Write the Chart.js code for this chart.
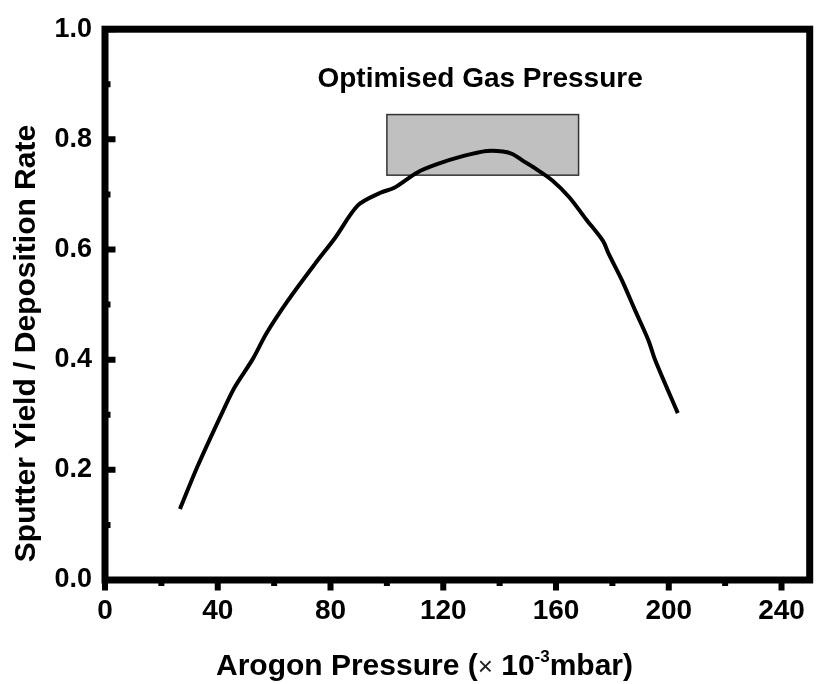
<!DOCTYPE html>
<html><head><meta charset="utf-8">
<script src="https://cdn.jsdelivr.net/npm/chart.js@4.4.1/dist/chart.umd.min.js"></script>
<style>html,body{margin:0;padding:0;background:#fff;} canvas{display:block;}</style>
</head><body>
<canvas id="c" width="819" height="684"></canvas>
<script>
// ---- data ----
const pressure = [26.6, 32.8, 41.5, 46.0, 52.4, 57.3, 65.0, 74.5, 81.6, 89.7, 97.7, 102.6, 110.8, 117.8, 127.2, 135.4, 141.2, 144.7, 148.3, 153.0, 158.8, 164.7, 170.5, 176.6, 178.7, 183.4, 188.1, 192.8, 195.2, 203.2];
const yieldRate = [0.129, 0.206, 0.303, 0.350, 0.401, 0.448, 0.508, 0.574, 0.621, 0.680, 0.703, 0.712, 0.740, 0.755, 0.770, 0.779, 0.778, 0.773, 0.761, 0.746, 0.725, 0.695, 0.656, 0.616, 0.592, 0.544, 0.489, 0.435, 0.399, 0.303];
const xTickValues = [0, 40, 80, 120, 160, 200, 240];
const xMinorValues = [20, 60, 100, 140, 180, 220];
const yTickValues = [0.0, 0.2, 0.4, 0.6, 0.8, 1.0];
const yMinorValues = [0.1, 0.3, 0.5, 0.7, 0.9];
const xRange = [0, 250];
const yRange = [0, 1];
const boxX = [100, 168];
const boxY = [0.735, 0.845];
const annotationText = 'Optimised Gas Pressure';
const annotationPos = [132, 0.895];
const yTitle = 'Sputter Yield / Deposition Rate';
const xTitleParts = ['Arogon Pressure (', '\u00d7', ' 10', '-3', 'mbar)'];

const FONT = "'Liberation Sans', Arial, Helvetica, sans-serif";

const decor = {
  id: 'decor',
  beforeDatasetsDraw(chart) {
    const {ctx, scales: {x, y}} = chart;
    const x0 = x.getPixelForValue(boxX[0]), x1 = x.getPixelForValue(boxX[1]);
    const y0 = y.getPixelForValue(boxY[1]), y1 = y.getPixelForValue(boxY[0]);
    ctx.save();
    ctx.fillStyle = '#c0c0c0';
    ctx.fillRect(x0, y0, x1 - x0, y1 - y0);
    ctx.strokeStyle = '#333';
    ctx.lineWidth = 1.5;
    ctx.strokeRect(x0, y0, x1 - x0, y1 - y0);
    ctx.restore();
  },
  afterDraw(chart) {
    const {ctx, chartArea: a, scales: {x, y}} = chart;
    ctx.save();
    // frame
    ctx.strokeStyle = '#000';
    ctx.lineWidth = 7;
    ctx.lineJoin = 'miter';
    ctx.strokeRect(a.left, a.top, a.right - a.left, a.bottom - a.top);
    // y ticks (inward)
    ctx.lineWidth = 6;
    ctx.lineCap = 'butt';
    ctx.beginPath();
    yTickValues.forEach(v => { const p = y.getPixelForValue(v); ctx.moveTo(a.left, p); ctx.lineTo(a.left + 10.5, p); });
    yMinorValues.forEach(v => { const p = y.getPixelForValue(v); ctx.moveTo(a.left, p); ctx.lineTo(a.left + 5.5, p); });
    // x ticks (outward)
    xTickValues.forEach(v => { const p = x.getPixelForValue(v); ctx.moveTo(p, a.bottom); ctx.lineTo(p, a.bottom + 10.5); });
    xMinorValues.forEach(v => { const p = x.getPixelForValue(v); ctx.moveTo(p, a.bottom); ctx.lineTo(p, a.bottom + 6); });
    ctx.stroke();

    ctx.fillStyle = '#000';
    // annotation
    ctx.font = 'bold 28px ' + FONT;
    ctx.textAlign = 'center';
    ctx.textBaseline = 'alphabetic';
    ctx.fillText(annotationText, x.getPixelForValue(annotationPos[0]) + 3, y.getPixelForValue(annotationPos[1]));

    // y title
    ctx.save();
    ctx.translate(35, 343.5);
    ctx.rotate(-Math.PI / 2);
    ctx.font = 'bold 30px ' + FONT;
    ctx.textAlign = 'center';
    ctx.fillText(yTitle, 0, 0);
    ctx.restore();

    // x title (mixed fonts, superscript)
    const styles = [
      {f: 'bold 30px ' + FONT, dy: 0, c: '#000'},
      {f: '26px ' + FONT, dy: 0, c: '#222'},
      {f: 'bold 30px ' + FONT, dy: 0, c: '#000'},
      {f: 'bold 17px ' + FONT, dy: -13, c: '#000'},
      {f: 'bold 30px ' + FONT, dy: 0, c: '#000'}
    ];
    let total = 0;
    const widths = xTitleParts.map((t, i) => { ctx.font = styles[i].f; const w = ctx.measureText(t).width; total += w; return w; });
    let cx = 424.5 - total / 2;
    ctx.textAlign = 'left';
    xTitleParts.forEach((t, i) => {
      ctx.font = styles[i].f; ctx.fillStyle = styles[i].c;
      ctx.fillText(t, cx, 675 + styles[i].dy);
      cx += widths[i];
    });
    ctx.restore();
  }
};

new Chart(document.getElementById('c'), {
  type: 'line',
  data: {
    datasets: [{
      data: pressure.map((p, i) => ({x: p, y: yieldRate[i]})),
      borderColor: '#000',
      borderWidth: 4,
      pointRadius: 0,
      tension: 0.3,
      fill: false
    }]
  },
  options: {
    responsive: false,
    animation: false,
    devicePixelRatio: 1,
    layout: {padding: {top: 28, right: 3, left: 0, bottom: 0}},
    plugins: {legend: {display: false}, tooltip: {enabled: false}},
    scales: {
      x: {
        type: 'linear', min: xRange[0], max: xRange[1],
        afterFit: s => { s.height = 104; },
        afterBuildTicks: s => { s.ticks = xTickValues.map(v => ({value: v})); },
        grid: {display: false, drawTicks: false},
        border: {display: false},
        ticks: {padding: 14, color: '#000', font: {family: FONT, size: 28, weight: 'bold'}, callback: v => String(v), maxRotation: 0, autoSkip: false}
      },
      y: {
        type: 'linear', min: yRange[0], max: yRange[1],
        afterFit: s => { s.width = 105; },
        afterBuildTicks: s => { s.ticks = yTickValues.map(v => ({value: v})); },
        grid: {display: false, drawTicks: false},
        border: {display: false},
        ticks: {padding: 13, color: '#000', font: {family: FONT, size: 27, weight: 'bold'}, callback: v => Number(v).toFixed(1), autoSkip: false}
      }
    }
  },
  plugins: [decor]
});
</script>
</body></html>
